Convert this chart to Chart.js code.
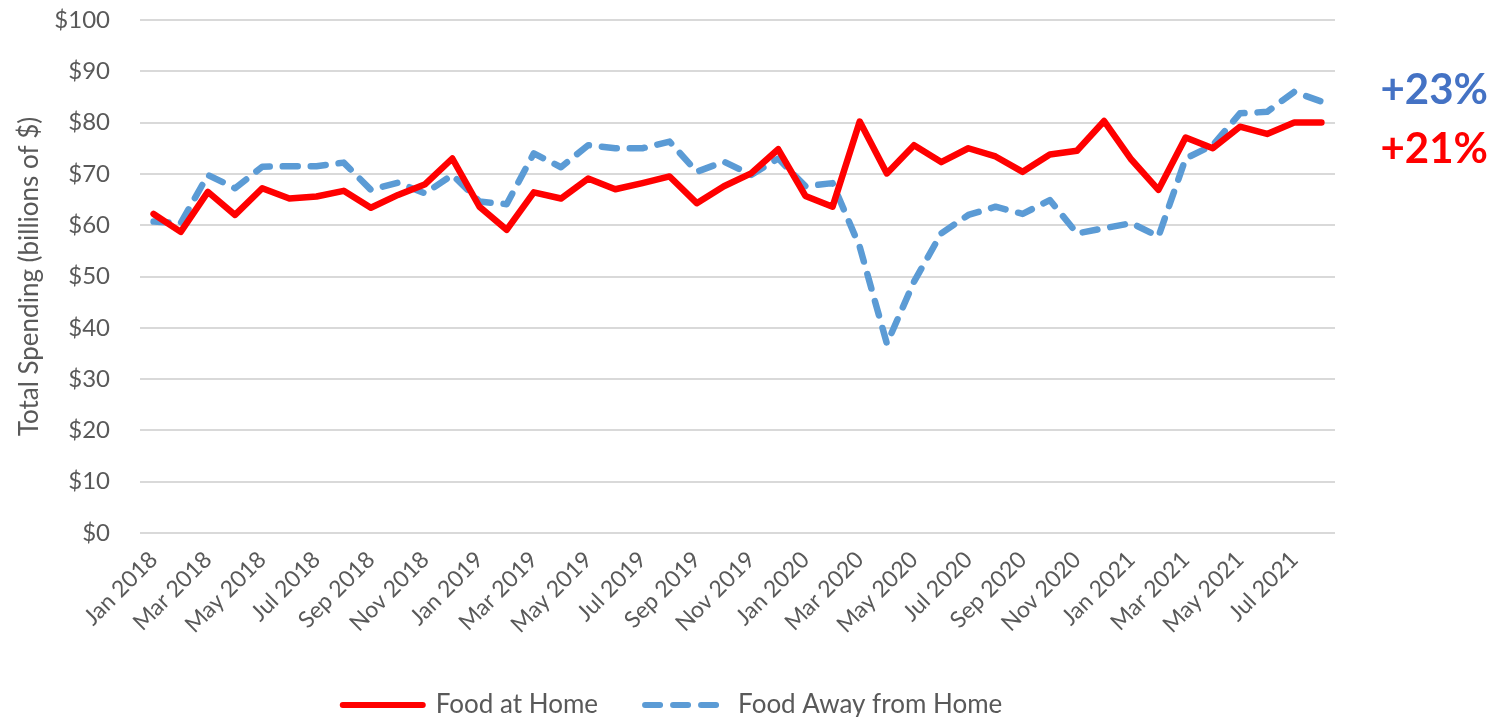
<!DOCTYPE html>
<html>
<head>
<meta charset="utf-8">
<script src="https://cdn.jsdelivr.net/npm/chart.js@4.4.1/dist/chart.umd.min.js"></script>
<style>
    html, body { margin: 0; padding: 0; background: #fff; }
    #wrap { position: relative; width: 1496px; height: 717px; }
    .note { position: absolute; right: 8px; font-family: Lato, sans-serif; font-weight: bold; font-size: 42px; line-height: 42px; }
</style>
</head>
<body>
<div id="wrap">
    <canvas id="Line_Chart" width="1496" height="717"></canvas>
    <div class="note" style="top: 67px; color: #4472C4;">+23%</div>
    <div class="note" style="top: 126px; color: #FF0000;">+21%</div>
</div>
<script>
const months = [
    'Jan 2018', 'Feb 2018', 'Mar 2018', 'Apr 2018', 'May 2018', 'Jun 2018', 'Jul 2018', 'Aug 2018', 'Sep 2018', 'Oct 2018', 'Nov 2018', 'Dec 2018',
    'Jan 2019', 'Feb 2019', 'Mar 2019', 'Apr 2019', 'May 2019', 'Jun 2019', 'Jul 2019', 'Aug 2019', 'Sep 2019', 'Oct 2019', 'Nov 2019', 'Dec 2019',
    'Jan 2020', 'Feb 2020', 'Mar 2020', 'Apr 2020', 'May 2020', 'Jun 2020', 'Jul 2020', 'Aug 2020', 'Sep 2020', 'Oct 2020', 'Nov 2020', 'Dec 2020',
    'Jan 2021', 'Feb 2021', 'Mar 2021', 'Apr 2021', 'May 2021', 'Jun 2021', 'Jul 2021', 'Aug 2021'
];

// billions of $
const foodAtHome = [
    62.2, 58.7, 66.5, 62.0, 67.2, 65.2, 65.6, 66.7, 63.4, 65.9, 68.0, 73.0,
    63.6, 59.1, 66.4, 65.2, 69.1, 67.0, 68.2, 69.5, 64.3, 67.6, 70.1, 74.8,
    65.7, 63.6, 80.2, 70.1, 75.6, 72.3, 75.0, 73.4, 70.4, 73.8, 74.5, 80.3,
    72.8, 66.9, 77.1, 75.0, 79.2, 77.8, 80.0, 80.0
];

const foodAwayFromHome = [
    60.7, 60.4, 69.8, 67.2, 71.4, 71.5, 71.5, 72.2, 66.9, 68.3, 66.2, 69.8,
    64.6, 64.1, 74.0, 71.3, 75.6, 75.0, 75.0, 76.3, 70.4, 72.4, 69.8, 73.0,
    67.6, 68.2, 55.8, 36.9, 49.0, 58.4, 62.0, 63.6, 62.2, 64.9, 58.4, 59.4,
    60.4, 57.8, 73.0, 75.6, 81.8, 82.1, 86.0, 84.1
];

const yTicks = { min: 0, max: 100, step: 10 };

const grey = '#595959';
const font = 'Lato';

// keep the dash of each series in the legend sample
const legendLabels = function (chart) {
    const items = Chart.defaults.plugins.legend.labels.generateLabels(chart);
    items.forEach((item, i) => {
        const ds = chart.data.datasets[i];
        item.lineDash = ds.borderDash || [];
        item.lineWidth = 6;
        item.strokeStyle = ds.borderColor;
        item.lineCap = 'round';
    });
    return items;
};

const legendHeight = {
    id: 'legendHeight',
    beforeInit(chart) {
        const fit = chart.legend.fit;
        chart.legend.fit = function () {
            fit.call(this);
            this.height = 72;
        };
    }
};

const ctx = document.getElementById('Line_Chart').getContext('2d');
new Chart(ctx, {
    type: 'line',
    data: {
        labels: months,
        datasets: [{
            label: 'Food at Home',
            data: foodAtHome,
            borderColor: '#FF0000',
            backgroundColor: '#FF0000',
            borderWidth: 6.5,
            borderJoinStyle: 'round',
            borderCapStyle: 'round',
            pointRadius: 0,
            tension: 0
        }, {
            label: 'Food Away from Home',
            data: foodAwayFromHome,
            borderColor: '#5B9BD5',
            backgroundColor: '#5B9BD5',
            borderWidth: 6.5,
            borderDash: [15, 13],
            borderJoinStyle: 'round',
            borderCapStyle: 'round',
            pointRadius: 0,
            tension: 0
        }]
    },
    options: {
        responsive: false,
        animation: false,
        layout: {
            padding: { left: 10, right: 161, top: 0, bottom: 0 }
        },
        scales: {
            x: {
                offset: true,
                grid: { display: false },
                border: { display: false },
                afterFit: scale => { scale.height = 112; },
                ticks: {
                    autoSkip: false,
                    minRotation: 45,
                    maxRotation: 45,
                    padding: 5,
                    color: grey,
                    font: { family: font, size: 23 },
                    callback: function (value, index) {
                        return index % 2 === 0 ? months[index] : '';
                    }
                }
            },
            y: {
                min: yTicks.min,
                max: yTicks.max,
                border: { display: false },
                grid: { color: '#D9D9D9', lineWidth: 2, drawTicks: false },
                afterFit: scale => {
                    scale.width = 130;
                    scale.paddingTop = 20;
                    scale.paddingBottom = 0;
                },
                ticks: {
                    stepSize: yTicks.step,
                    padding: 30,
                    color: grey,
                    font: { family: font, size: 24 },
                    callback: v => '$' + v
                },
                title: {
                    display: true,
                    text: 'Total Spending (billions of $)',
                    color: grey,
                    font: { family: font, size: 26 },
                    padding: { top: 4, bottom: 10 }
                }
            }
        },
        plugins: {
            legend: {
                position: 'bottom',
                labels: {
                    usePointStyle: true,
                    pointStyle: 'line',
                    pointStyleWidth: 80,
                    boxHeight: 20,
                    padding: 47,
                    color: grey,
                    font: { family: font, size: 26 },
                    generateLabels: legendLabels
                }
            },
            tooltip: { enabled: false }
        }
    },
    plugins: [legendHeight]
});
</script>
</body>
</html>
